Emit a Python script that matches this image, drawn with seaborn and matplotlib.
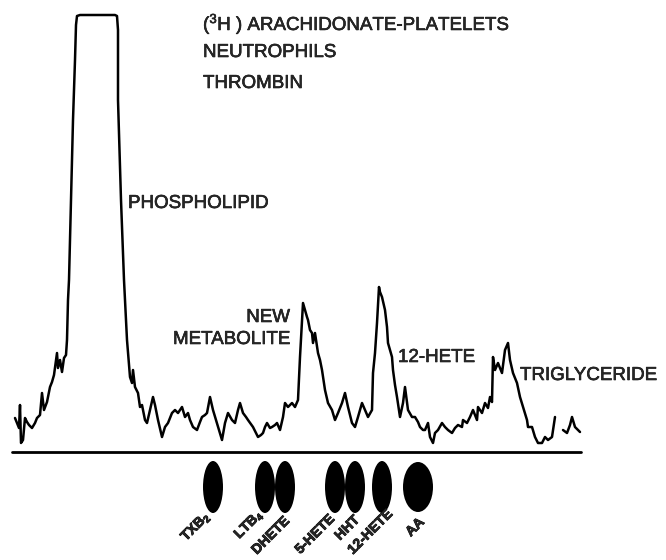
import matplotlib
matplotlib.use("Agg")
import matplotlib.pyplot as plt
import matplotlib.patheffects as pe
from matplotlib.patches import Ellipse
import seaborn as sns
import pandas as pd

# radioactivity trace along the plate (position, counts above baseline)
position = [15, 17, 19, 20, 21, 23, 25, 27, 29, 32, 35, 37, 40, 42, 44, 47, 50, 52, 54, 56,
            57, 58, 60, 62, 64, 66, 67, 68, 69, 71, 73, 75, 76, 77, 80, 100, 115, 117, 118, 118,
            121, 124, 127, 130, 132, 133, 135, 138, 140, 142, 145, 147, 150, 153, 155, 158, 162, 165, 168, 170,
            172, 175, 178, 182, 185, 188, 190, 193, 197, 200, 202, 205, 207, 210, 213, 216, 218, 222, 225, 228,
            232, 235, 238, 240, 243, 246, 248, 253, 258, 261, 263, 265, 267, 270, 272, 275, 277, 280, 283, 285,
            288, 292, 295, 298, 300, 302, 303, 305, 307, 308, 310, 312, 313, 315, 318, 320, 322, 325, 328, 332,
            335, 338, 342, 345, 348, 352, 355, 358, 362, 365, 368, 372, 373, 375, 377, 379, 380, 382, 385, 387,
            388, 390, 392, 393, 395, 397, 400, 403, 405, 408, 412, 415, 418, 420, 423, 425, 428, 430, 433, 435,
            438, 442, 445, 448, 452, 455, 458, 462, 463, 467, 470, 473, 475, 477, 478, 482, 485, 488, 490, 492,
            493, 495, 498, 500, 502, 505, 508, 510, 513, 517, 520, 523, 527, 528, 532, 535, 538, 542, 545, 548,
            552, 555]
counts = [33, 28, 23, 46, 8, 11, 33, 29, 26, 23, 28, 33, 36, 58, 41, 49, 64, 69, 76, 91,
          98, 83, 91, 79, 93, 96, 111, 151, 171, 251, 331, 391, 426, 435, 436, 436, 436, 435, 421, 351,
          251, 171, 111, 74, 68, 81, 64, 58, 44, 46, 31, 28, 41, 54, 46, 31, 14, 24, 28, 33,
          38, 41, 38, 44, 34, 38, 31, 24, 21, 29, 34, 36, 38, 54, 41, 31, 24, 11, 28, 38,
          31, 28, 41, 48, 38, 34, 31, 24, 14, 16, 18, 24, 28, 23, 24, 26, 28, 21, 34, 48,
          44, 48, 44, 51, 94, 131, 148, 141, 134, 131, 121, 118, 108, 118, 98, 91, 81, 61, 48, 41,
          31, 38, 48, 58, 44, 28, 24, 34, 48, 41, 34, 41, 78, 98, 128, 164, 159, 154, 141, 124,
          108, 101, 94, 81, 66, 54, 34, 48, 64, 41, 34, 34, 29, 24, 21, 21, 28, 14, 8, 18,
          21, 28, 24, 21, 18, 23, 26, 24, 31, 28, 34, 41, 36, 31, 44, 38, 48, 43, 54, 49,
          94, 81, 88, 83, 78, 101, 108, 91, 78, 68, 54, 44, 31, 24, 24, 14, 8, 8, 14, 11,
          14, 34]
# last piece of the trace after the pen gap
position_tail = [563, 567, 570, 572, 575, 578, 580]
counts_tail = [21, 18, 26, 34, 24, 21, 19]

# reference spots on the plate
spot_names = ["TXB$_2$", "LTB$_4$", "DHETE", "5-HETE", "HHT", "12-HETE", "AA"]
spot_position = [213, 265, 285, 335, 355, 382, 418]
spot_width = [20, 20, 20, 20, 20, 20, 30]

peak_labels = ["PHOSPHOLIPID", "NEW", "METABOLITE", "12-HETE", "TRIGLYCERIDE"]
title_lines = ["($^{3}$H ) ARACHIDONATE-PLATELETS", "NEUTROPHILS", "THROMBIN"]

sns.set_style("white")
plt.rcParams["font.family"] = ["Liberation Sans", "DejaVu Sans"]
plt.rcParams["mathtext.default"] = "regular"

fig = plt.figure(figsize=(6.66, 5.6), dpi=100)
ax = fig.add_axes([0, 0, 1, 1])

trace = pd.DataFrame({
    "position": position + position_tail,
    "counts": counts + counts_tail,
    "piece": [0] * len(position) + [1] * len(position_tail),
})
sns.lineplot(data=trace, x="position", y="counts", units="piece", estimator=None,
             sort=False, color="black", lw=1.8, ax=ax)
sns.lineplot(x=[12, 581], y=[-1, -1], color="black", lw=2, ax=ax)

for name, x, w in zip(spot_names, spot_position, spot_width):
    h = 52 if w == 20 else 50
    ax.add_patch(Ellipse((x, -36), w, h, color="black", lw=0))

label_dx = [-5, -4, 2, -3, 2, 8, 4]
label_y = [-63, -61, -68, -66, -67, -61, -69]
for name, x, dx, y in zip(spot_names, spot_position, label_dx, label_y):
    ax.text(x + dx, y, name, rotation=45, rotation_mode="anchor", ha="right",
            va="center", fontsize=10, fontweight="bold",
            family=["Liberation Sans Narrow", "Liberation Sans"],
            path_effects=[pe.withStroke(linewidth=0.6, foreground="black")])

heavy = [pe.withStroke(linewidth=0.4, foreground="black")]
fs = 13.5
texts = [
    ax.text(203, 421, title_lines[0], fontsize=fs, va="baseline"),
    ax.text(203, 394, title_lines[1], fontsize=fs, va="baseline"),
    ax.text(203, 363, title_lines[2], fontsize=fs, va="baseline"),
    ax.text(128, 243, peak_labels[0], fontsize=fs, va="baseline"),
    ax.text(290, 129, peak_labels[1], fontsize=fs, va="baseline", ha="right"),
    ax.text(290, 107, peak_labels[2], fontsize=fs, va="baseline", ha="right"),
    ax.text(398, 89, peak_labels[3], fontsize=fs, va="baseline"),
    ax.text(520, 71, peak_labels[4], fontsize=fs, va="baseline"),
]
for t in texts:
    t.set_path_effects(heavy)

ax.set_xlim(0, 666)
ax.set_ylim(-109, 451)
ax.set_axis_off()
fig.savefig("out.png", dpi=100)
